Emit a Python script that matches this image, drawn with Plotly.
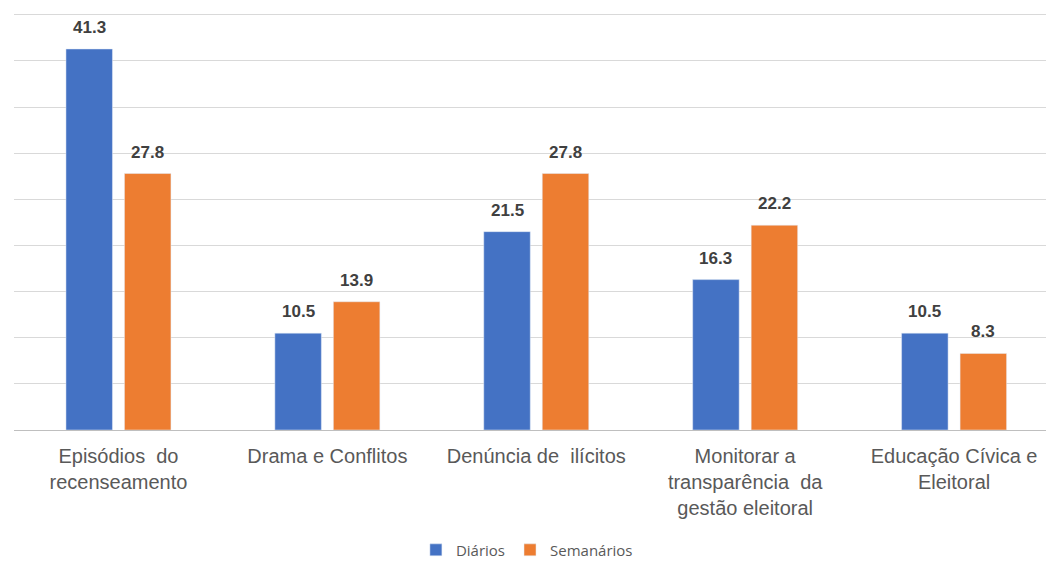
import plotly.graph_objects as go

categories = ["Episódios  do<br>recenseamento", "Drama e Conflitos", "Denúncia de  ilícitos",
              "Monitorar a<br>transparência  da<br>gestão eleitoral", "Educação Cívica e<br>Eleitoral"]
diarios = [41.3, 10.5, 21.5, 16.3, 10.5]
semanarios = [27.8, 13.9, 27.8, 22.2, 8.3]

BARGAP = 0.44
half = (1 - BARGAP) / 4  # offset of each bar centre from category centre

fig = go.Figure()
fig.add_trace(go.Bar(x=categories, y=diarios, name="Diários", marker_color="#4472C4"))
fig.add_trace(go.Bar(x=categories, y=semanarios, name="Semanários", marker_color="#ED7D31"))

lab_font = dict(size=17, color="#404040", family="Liberation Sans", weight="bold")
for series, off in ((diarios, -half), (semanarios, half)):
    for i, v in enumerate(series):
        fig.add_annotation(x=i + off, y=v, xref="x", yref="y", text=f"{v:.1f}",
                           showarrow=False, yanchor="bottom", yshift=10, font=lab_font)

fig.update_layout(
    width=1046, height=563,
    margin=dict(l=14, r=0, t=13, b=133, autoexpand=False),
    paper_bgcolor="white", plot_bgcolor="white",
    barmode="group", bargap=BARGAP, bargroupgap=0.205,
    xaxis=dict(range=[-0.5, 4.44], showgrid=False, showline=True, linecolor="#bfbfbf",
               tickfont=dict(size=20, color="#595959", family="Liberation Sans"), ticks="",
               ticklabelstandoff=8, automargin=False),
    yaxis=dict(range=[0, 45.2], dtick=5, showgrid=True, gridcolor="#d9d9d9", showticklabels=False,
               zeroline=False, automargin=False),
    legend=dict(orientation="h", x=0.497, xanchor="center", y=-0.288, yanchor="middle",
                itemwidth=30, font=dict(size=15, color="#595959", family="Open Sans")),
    showlegend=True,
)
fig.write_html("out.html")
